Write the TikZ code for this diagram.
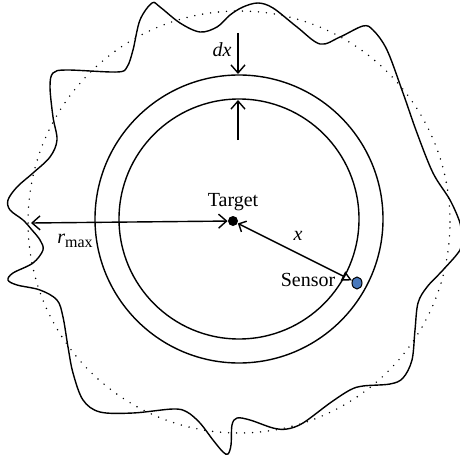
\documentclass[tikz,border=0pt]{standalone}
\usepackage{fontspec}
\setmainfont{Liberation Serif}
\usetikzlibrary{shapes.geometric, arrows.meta, positioning}
\definecolor{sensorblue}{RGB}{72,120,188}

\begin{document}
\begin{tikzpicture}[
    x=0.5pt, y=-0.5pt,
    ring/.style={draw, line width=0.7pt},
    barb/.style={line width=0.7pt, -{Straight Barb[length=4pt, width=7pt]}},
    range circle/.style={line width=0.8pt, line cap=round, dash pattern=on 0pt off 4pt},
    label style/.style={font=\fontsize{10}{12}\selectfont, inner sep=1pt}
]
    \useasboundingbox (0,0) rectangle (460,460);

    % --- zasieg maksymalny (kropkowany okrag i nieregularna granica) ---
    \draw[range circle] (239,222) circle (105.5pt);
    \draw[line width=0.7pt] plot[smooth cycle, tension=0.55] coordinates {
        (152,3) (160,7) (180,23) (200,32) (217,27) (230,15) (243,7) (258,3)
        (273,8) (297,27) (320,44) (340,37) (363,26) (373,30) (387,50) (403,93)
        (417,133) (433,173) (450,200) (460,223) (461,237) (460,250) (443,270)
        (427,287) (418,303) (415,330) (412,360) (403,378) (390,384) (363,386)
        (350,390) (330,403) (303,423) (287,429) (273,428) (250,420) (237,418)
        (232,425) (231,445) (228,454) (223,452) (213,440) (200,423) (187,412)
        (173,409) (133,413) (100,412) (83,400) (73,373) (68,347) (63,317)
        (57,300) (40,290) (17,285) (8,280) (13,273) (33,263) (43,250) (40,240)
        (32,230) (23,220) (10,210) (8,200) (17,187) (33,173) (50,157) (57,140)
        (53,117) (50,87) (53,73) (67,70) (117,72) (127,67) (133,50) (140,20)};

    % --- pierscien o grubosci dx ---
    \draw[ring] (239,219) circle (72pt);
    \draw[ring] (239,219) circle (60pt);

    % --- cel i czujnik ---
    \node[circle, fill=black, inner sep=0pt, minimum size=5pt] (target) at (233,221) {};
    \node[ellipse, draw, fill=sensorblue, line width=0.5pt, inner sep=0pt,
          minimum width=5pt, minimum height=6pt] (sensor) at (357,283) {};
    \coordinate (rend) at (31,223);

    \draw[line width=0.7pt, {Straight Barb[length=4pt, width=7pt]}-{Straight Barb[length=4pt, width=7pt]}]
        (rend) -- (target);
    \draw[line width=0.7pt, {Straight Barb[length=3pt, width=6pt]}-{Triangle[open, length=5pt, width=5pt]}]
        (target) -- (sensor);

    % strzalki dx
    \coordinate (dxtop) at (238,33);
    \coordinate (dxout) at (238,74);
    \coordinate (dxbot) at (238,140);
    \coordinate (dxin) at (238,100);
    \draw[barb] (dxtop) -- (dxout);
    \draw[barb] (dxbot) -- (dxin);

    % --- opisy ---
    \node[label style, above=1pt of target] (tlabel) {Target};
    \node[label style] (slabel) at (308,280) {Sensor};
    \node[label style] (xlabel) at (298,236) {\textit{x}};
    \node[label style] (rlabel) at (75,241) {\textit{r}\raisebox{-0.5ex}{\footnotesize max}};
    \node[label style] (dxlabel) at (222,50) {\textit{dx}};

\end{tikzpicture}
\end{document}
